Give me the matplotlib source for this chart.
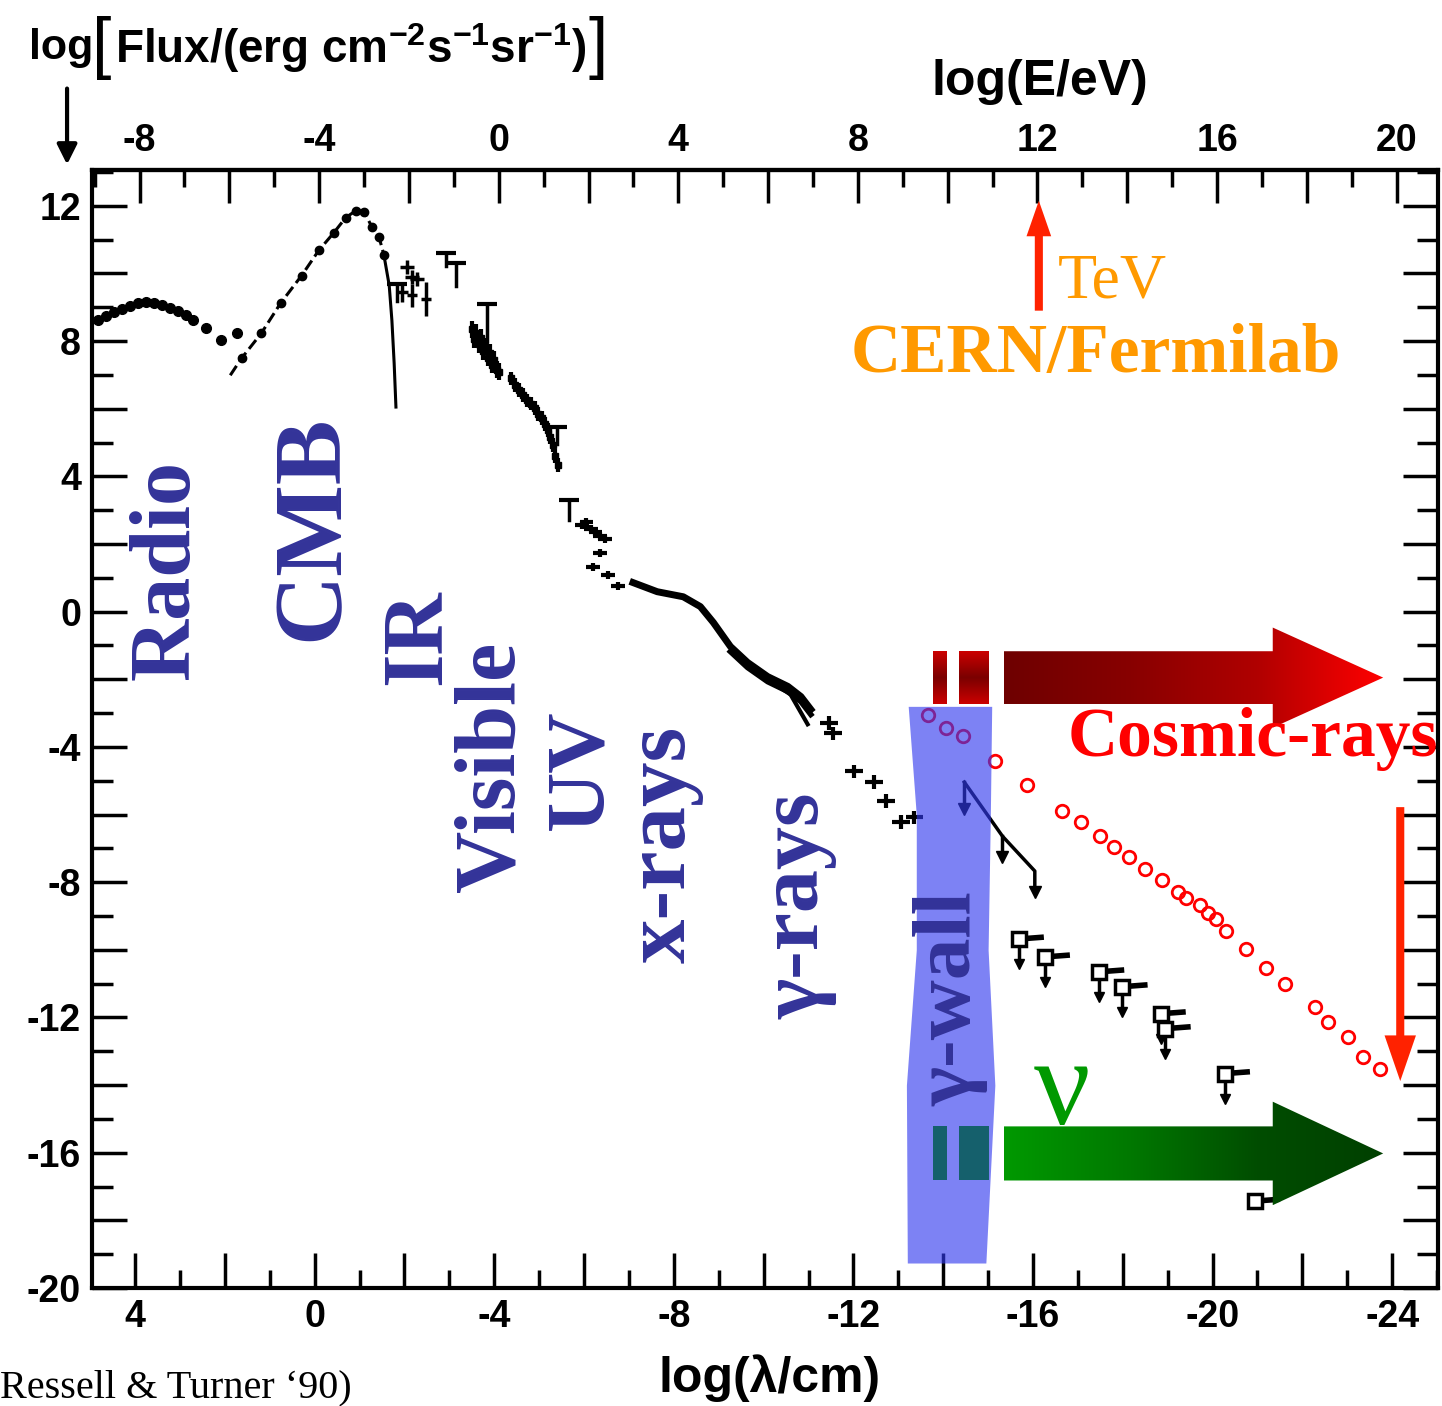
import numpy as np
import matplotlib.pyplot as plt
from matplotlib.patches import Polygon, FancyArrow, FancyArrowPatch
from matplotlib.colors import LinearSegmentedColormap
from matplotlib.ticker import MultipleLocator, FuncFormatter

plt.rcParams['font.family'] = ['Liberation Sans', 'DejaVu Sans']
plt.rcParams['font.weight'] = 'bold'
plt.rcParams['mathtext.default'] = 'regular'

# ---------------- data (log lambda/cm , log flux) ----------------
radio_lam = [4.83, 4.65, 4.47, 4.30, 4.12, 3.94, 3.76, 3.58, 3.40, 3.22, 3.04, 2.86, 2.71]
radio_flux = [8.61, 8.73, 8.85, 8.94, 9.03, 9.12, 9.17, 9.14, 9.06, 8.97, 8.88, 8.76, 8.61]
radio_dot_lam = [2.42, 2.08, 1.72]
radio_dot_flux = [8.38, 8.02, 8.23]

cmb_lam = [1.88, 1.63, 1.19, 0.76, 0.29, -0.09, -0.43, -0.69, -0.92, -1.10, -1.28, -1.43, -1.54]
cmb_flux = [6.99, 7.49, 8.23, 9.12, 9.94, 10.68, 11.21, 11.65, 11.86, 11.83, 11.36, 11.09, 10.56]
cmb_tail_lam = [-1.54, -1.66, -1.72, -1.77, -1.81]
cmb_tail_flux = [10.56, 9.65, 8.61, 7.35, 6.05]

ir_plus_lam = [-2.06, -2.17, -2.28]
ir_plus_flux = [10.18, 9.90, 9.85]
ir_err_lam = [-2.17, -2.48, -1.95]
ir_err_flux = [9.35, 9.25, 9.45]
ir_err = [0.35, 0.5, 0.3]

ul_lam = [-1.83, -2.93, -3.15, -3.83, -5.39, -5.66]
ul_flux = [9.70, 10.62, 10.32, 9.10, 5.46, 3.30]
ul_len = [0.5, 0.4, 0.7, 1.1, 0.5, 0.6]

vis_lam = [-3.50, -3.55, -3.60, -3.65, -3.70, -3.75, -3.80, -3.85, -3.90, -3.95, -4.00, -4.05, -4.10]
vis_flux = [8.35, 8.05, 8.25, 7.90, 8.10, 7.70, 7.85, 7.50, 7.65, 7.30, 7.45, 7.15, 7.10]

uv_lam = [-4.38, -4.47, -4.56, -4.65, -4.74, -4.82, -4.90, -4.98, -5.06, -5.13, -5.19, -5.25, -5.30, -5.36, -5.41]
uv_flux = [6.90, 6.70, 6.55, 6.40, 6.25, 6.15, 6.02, 5.85, 5.72, 5.55, 5.37, 5.15, 4.93, 4.60, 4.34]

euv_lam = [-5.95, -6.05, -6.15, -6.25, -6.35, -6.47, -6.35, -6.20, -6.53, -6.76]
euv_flux = [2.55, 2.65, 2.45, 2.35, 2.25, 2.15, 1.74, 1.33, 1.09, 0.77]

xray_lam = [-7.09, -7.63, -8.21, -8.59, -8.88, -9.26, -9.64, -10.09, -10.54, -10.83, -11.05]
xray_flux = [0.86, 0.59, 0.44, 0.15, -0.32, -1.03, -1.50, -1.92, -2.21, -2.51, -2.89]
xray_low_lam = [-9.26, -9.93, -10.60, -10.98]
xray_low_flux = [-1.18, -1.86, -2.45, -3.33]

gam_lam = [-11.45, -11.55, -12.01, -12.46, -12.73, -13.07, -13.36]
gam_flux = [-3.30, -3.60, -4.72, -5.04, -5.60, -6.22, -6.08]

tev_lam = [-14.47, -15.32, -16.04, -16.04]
tev_flux = [-5.04, -6.64, -7.67, -8.29]

cr_lam = [-13.67, -14.07, -14.43, -15.15, -15.86, -16.64, -17.07, -17.49, -17.81, -18.14,
          -18.50, -18.88, -19.22, -19.40, -19.71, -19.89, -20.07, -20.29, -20.74, -21.19,
          -21.61, -22.28, -22.57, -23.02, -23.36, -23.74]
cr_flux = [-3.07, -3.45, -3.69, -4.42, -5.13, -5.90, -6.22, -6.64, -6.96, -7.26,
           -7.61, -7.94, -8.29, -8.47, -8.67, -8.91, -9.09, -9.44, -9.97, -10.53,
           -11.00, -11.68, -12.12, -12.57, -13.16, -13.51]

uhe_lam = [-15.68, -16.26, -17.47, -17.99, -18.84, -18.95, -20.27, -20.94]
uhe_flux = [-9.68, -10.21, -10.65, -11.09, -11.89, -12.33, -13.66, -17.43]

band_lam_left = [-13.22, -13.40, -13.40, -13.18, -13.20]
band_lam_right = [-15.08, -15.05, -15.00, -15.15, -14.95]
band_flux = [-2.80, -6.0, -10.0, -14.0, -19.26]

blue = '#333399'

fig = plt.figure(figsize=(14.42, 14.06), dpi=100)
ax = fig.add_axes([0.0638, 0.0839, 0.9334, 0.7952])


def grad_fill(verts, colors, horizontal=True, z=4):
    poly = Polygon(verts, closed=True, fc='none', ec='none')
    ax.add_patch(poly)
    xs = [v[0] for v in verts]
    ys = [v[1] for v in verts]
    cmap = LinearSegmentedColormap.from_list('g', colors)
    g = np.linspace(0, 1, 256)
    g = g.reshape(1, -1) if horizontal else g.reshape(-1, 1)
    im = ax.imshow(g, cmap=cmap, extent=[max(xs), min(xs), min(ys), max(ys)],
                   aspect='auto', origin='lower', zorder=z, interpolation='bilinear')
    im.set_clip_path(poly)


def big_arrow(x0, xh, xt, yc, hs, hh):
    return [(x0, yc + hs), (xh, yc + hs), (xh, yc + hh), (xt, yc),
            (xh, yc - hh), (xh, yc - hs), (x0, yc - hs)]


# ---------------- measurements ----------------
ax.plot(radio_lam, radio_flux, 'o-', color='k', ms=7, lw=3, zorder=3)
ax.plot(radio_dot_lam, radio_dot_flux, 'o', color='k', ms=7, zorder=3)
ax.plot(cmb_lam, cmb_flux, '--', color='k', lw=2.2, zorder=3)
ax.plot(cmb_lam[1:], cmb_flux[1:], 'o', color='k', ms=6, zorder=3)
ax.plot(cmb_tail_lam, cmb_tail_flux, '-', color='k', lw=2.2, zorder=3)

for x, y, d in zip(ul_lam, ul_flux, ul_len):
    ax.plot([x, x], [y, y - d], color='k', lw=2.5, zorder=3)
    ax.plot(x, y, marker='_', ms=14, mew=3, color='k', zorder=3)

ax.plot(ir_plus_lam, ir_plus_flux, '+', color='k', ms=10, mew=2.5, zorder=3)
ax.errorbar(ir_err_lam, ir_err_flux, yerr=ir_err, xerr=0.12, fmt='none', ecolor='k', elinewidth=2.5, zorder=3)

ax.errorbar(vis_lam, vis_flux, yerr=0.25, xerr=0.05, fmt='s', ms=5, color='k', elinewidth=3, zorder=3)
ax.errorbar(uv_lam, uv_flux, yerr=0.2, xerr=0.06, fmt='s', ms=5, color='k', elinewidth=3, zorder=3)
ax.errorbar(euv_lam, euv_flux, yerr=0.12, xerr=0.15, fmt='none', ecolor='k', elinewidth=3, zorder=3)

ax.plot(xray_lam, xray_flux, '-', color='k', lw=5, zorder=3)
ax.plot(xray_lam[5:], [f - 0.15 for f in xray_flux[5:]], '-', color='k', lw=4, zorder=3)
ax.plot(xray_low_lam, xray_low_flux, '-', color='k', lw=3, zorder=3)

ax.errorbar(gam_lam, gam_flux, yerr=0.2, xerr=0.2, fmt='none', ecolor='k', elinewidth=3, zorder=3)

ax.plot(tev_lam, tev_flux, '-', color='k', lw=2.5, zorder=3)
ax.plot(tev_lam[-1], tev_flux[-1], 'v', color='k', ms=8, zorder=3)
ax.plot([tev_lam[1], tev_lam[1]], [tev_flux[1], tev_flux[1] - 0.6], '-', color='k', lw=2.5, zorder=3)
ax.plot(tev_lam[1], tev_flux[1] - 0.6, 'v', color='k', ms=8, zorder=3)
ax.plot([tev_lam[0], tev_lam[0]], [tev_flux[0], tev_flux[0] - 0.8], '-', color='k', lw=2.5, zorder=3)
ax.plot(tev_lam[0], tev_flux[0] - 0.8, 'v', color='k', ms=8, zorder=3)

for i, (x, y) in enumerate(zip(uhe_lam, uhe_flux)):
    if i < len(uhe_lam) - 1:
        ax.plot([x, x], [y, y - 0.75], color='k', lw=2.5, zorder=3)
        ax.plot(x, y - 0.75, 'v', color='k', ms=7, zorder=3)
    ax.plot([x, x - 0.5], [y, y + 0.05], color='k', lw=4, zorder=3)
    ax.plot(x, y, 's', ms=10, mfc='white', mec='k', mew=2.5, zorder=3)

ax.plot(cr_lam, cr_flux, 'o', ms=9, mfc='none', mec='#ff0000', mew=2, zorder=3)

# ---------------- big gradient arrows ----------------
grad_fill(big_arrow(-15.35, -21.34, -23.80, -1.95, 0.78, 1.48),
          ['#6e0000', '#880000', '#b00000', '#ff0000'])
for xa, xb in [(-13.78, -14.09), (-14.36, -15.03)]:
    grad_fill([(xa, -1.17), (xb, -1.17), (xb, -2.73), (xa, -2.73)],
              ['#cc0000', '#7a0000', '#cc0000'], horizontal=False)

grad_fill(big_arrow(-15.35, -21.34, -23.80, -16.02, 0.80, 1.53),
          ['#009900', '#007800', '#004d00', '#004000'])

# gamma-wall band
ax.fill_betweenx(band_flux, band_lam_left, band_lam_right, color='#323aef', alpha=0.63, lw=0, zorder=6)
for xa, xb in [(-13.78, -14.09), (-14.36, -15.03)]:
    ax.fill([xa, xb, xb, xa], [-15.22, -15.22, -16.82, -16.82], color='#15606c', lw=0, zorder=7)

# thin red arrows
ax.add_patch(FancyArrow(-16.13, 8.9, 0, 2.2, width=0.18, head_width=0.55, head_length=1.05,
                        color='#ff2200', lw=0, zorder=5))
ax.add_patch(FancyArrow(-24.18, -5.78, 0, -6.75, width=0.18, head_width=0.7, head_length=1.35,
                        color='#ff2200', lw=0, zorder=5))

# ---------------- labels ----------------
tfam = 'Liberation Serif'
for s, x, y, fs in [('Radio', 3.27, 1.24, 62), ('CMB', 0.02, 2.48, 70), ('IR', -2.33, -0.74, 62),
                    ('Visible', -3.98, -4.60, 62), ('UV', -5.95, -4.66, 60), ('x-rays', -7.76, -6.87, 64),
                    ('γ-rays', -10.76, -8.70, 62)]:
    ax.text(x, y, s, rotation=90, ha='center', va='center', fontsize=fs, color=blue,
            family=tfam, weight='bold', zorder=8)
ax.text(-14.18, -11.45, 'γ-wall', rotation=90, ha='center', va='center', fontsize=60, color=blue,
        family=tfam, weight='bold', zorder=8)

ax.text(-17.76, 9.73, 'TeV', ha='center', va='center', fontsize=46, color='#ff9900',
        family=tfam, weight='normal', zorder=8)
ax.text(-17.40, 7.58, 'CERN/Fermilab', ha='center', va='center', fontsize=50, color='#ff9900',
        family=tfam, weight='bold', zorder=8)
ax.text(-20.89, -3.78, 'Cosmic-rays', ha='center', va='center', fontsize=50, color='#ff0000',
        family=tfam, weight='bold', zorder=8, clip_on=False)
ax.text(-16.64, -14.25, 'ν', ha='center', va='center', fontsize=90, color='#009900',
        family=tfam, weight='normal', zorder=8)

# ---------------- axes ----------------
ax.set_xlim(4.96, -25.02)
ax.set_ylim(-20.0, 13.06)

fmt4 = FuncFormatter(lambda v, p: f"{int(round(v))}" if int(round(v)) % 4 == 0 else "")
ax.xaxis.set_major_locator(MultipleLocator(2))
ax.xaxis.set_minor_locator(MultipleLocator(1))
ax.yaxis.set_major_locator(MultipleLocator(2))
ax.yaxis.set_minor_locator(MultipleLocator(1))
ax.xaxis.set_major_formatter(fmt4)
ax.yaxis.set_major_formatter(fmt4)
ax.tick_params(axis='x', which='major', direction='in', length=25, width=2.5, labelsize=27, pad=8, top=False)
ax.tick_params(axis='x', which='minor', direction='in', length=13, width=2.5, top=False)
ax.tick_params(axis='y', which='major', direction='in', length=25, width=2.5, labelsize=27, pad=8, right=True)
ax.tick_params(axis='y', which='minor', direction='in', length=15, width=2.5, right=True)
for sp in ax.spines.values():
    sp.set_linewidth(3)

secax = ax.secondary_xaxis('top', functions=(lambda l: -np.asarray(l) - 4.1, lambda e: -np.asarray(e) - 4.1))
secax.xaxis.set_major_locator(MultipleLocator(2))
secax.xaxis.set_minor_locator(MultipleLocator(1))
secax.xaxis.set_major_formatter(fmt4)
secax.tick_params(which='major', direction='in', length=24, width=2.5, labelsize=27, pad=8)
secax.tick_params(which='minor', direction='in', length=12, width=2.5)
secax.spines['top'].set_linewidth(3)

fig.text(0.534, 0.020, 'log(λ/cm)', ha='center', va='center', fontsize=36)
fig.text(0.721, 0.942, 'log(E/eV)', ha='center', va='center', fontsize=36)
fig.text(0.020, 0.966, 'log', ha='left', va='center', fontsize=31)
fig.text(0.0635, 0.966, '[', ha='left', va='center', fontsize=50, weight='normal')
fig.text(0.080, 0.966, 'Flux/(erg cm$^{-2}$s$^{-1}$sr$^{-1}$)', ha='left', va='center', fontsize=33)
fig.text(0.408, 0.966, ']', ha='left', va='center', fontsize=50, weight='normal')
fig.add_artist(FancyArrowPatch((0.0465, 0.939), (0.0465, 0.881), transform=fig.transFigure,
                               arrowstyle='-|>', mutation_scale=30, lw=3, color='k'))
fig.text(0.0, 0.013, 'Ressell & Turner ‘90)', ha='left', va='center', fontsize=29,
         family=tfam, weight='normal')

fig.savefig('out.png', dpi=100)
